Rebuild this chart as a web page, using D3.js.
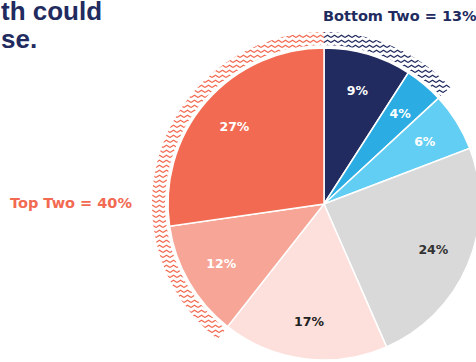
<!DOCTYPE html>
<html>
<head>
<meta charset="utf-8">
<script src="https://cdn.jsdelivr.net/npm/d3@7"></script>
<style>
  html, body { margin: 0; padding: 0; background: #fff; }
  svg { display: block; }
</style>
</head>
<body>
<div id="chart"></div>
<script>
// Share of responses, clockwise from 12 o'clock
const categories = ['Bottom 1', 'Bottom 2', 'Low', 'Middle', 'High', 'Top 2', 'Top 1'];
const values = [9, 4, 6, 24, 17, 12, 27];
const colors = ['#212b5f', '#2badE3', '#63cef3', '#d9d9d9', '#fde0dc', '#f6a597', '#f26a51'];
const labelColors = ['#fff', '#fff', '#fff', '#333', '#222', '#fff', '#fff'];

// Grouped brackets drawn as hatched rings
const groups = [
    { name: 'Top Two = 40%', members: ['Top 2', 'Top 1'], color: '#f26a51' },
    { name: 'Bottom Two = 13%', members: ['Bottom 1', 'Bottom 2'], color: '#212b5f' }
];

const titleLines = ['th could', 'se.'];

const width = 476;
const height = 362;
const cx = 324, cy = 204;
const radius = 156;

const svg = d3.select('#chart')
    .append('svg')
    .attr('width', width)
    .attr('height', height);

// Zigzag patterns for the group rings
const defs = svg.append('defs');
groups.forEach((g, i) => {
    const pat = defs.append('pattern')
        .attr('id', 'zig' + i)
        .attr('patternUnits', 'userSpaceOnUse')
        .attr('width', 7)
        .attr('height', 5);
    pat.append('path')
        .attr('d', 'M0,3.6 L3.5,1.2 L7,3.6')
        .attr('fill', 'none')
        .attr('stroke', g.color)
        .attr('stroke-width', 1.2);
});

const data = categories.map((c, i) => ({ name: c, value: values[i], color: colors[i], labelColor: labelColors[i] }));

const pie = d3.pie()
    .value(d => d.value)
    .sort(null);

const arcs = pie(data);

const arc = d3.arc()
    .innerRadius(0)
    .outerRadius(radius);

const labelArc = d3.arc()
    .innerRadius(radius * 0.76)
    .outerRadius(radius * 0.76);

const ringArc = d3.arc()
    .innerRadius(radius + 3)
    .outerRadius(radius + 16);

const chart = svg.append('g')
    .attr('transform', `translate(${cx},${cy})`);

// Hatched rings
groups.forEach((g, i) => {
    const parts = arcs.filter(a => g.members.includes(a.data.name));
    const start = d3.min(parts, a => a.startAngle);
    const end = d3.max(parts, a => a.endAngle);
    chart.append('path')
        .attr('d', ringArc({ startAngle: start, endAngle: end }))
        .attr('fill', `url(#zig${i})`);
});

// Slices
chart.selectAll('.slice')
    .data(arcs)
    .enter()
    .append('path')
    .attr('class', 'slice')
    .attr('d', arc)
    .attr('fill', d => d.data.color)
    .attr('stroke', '#fff')
    .attr('stroke-width', 1.5);

// Slice labels
chart.selectAll('.slice-label')
    .data(arcs)
    .enter()
    .append('text')
    .attr('class', 'slice-label')
    .attr('transform', d => `translate(${labelArc.centroid(d)})`)
    .attr('text-anchor', 'middle')
    .attr('dy', '0.35em')
    .style('font-family', 'DejaVu Sans, sans-serif')
    .style('font-size', '12.5px')
    .style('font-weight', 'bold')
    .attr('fill', d => d.data.labelColor)
    .text(d => d.data.value + '%');

// Group captions
svg.append('text')
    .attr('x', 10)
    .attr('y', 208)
    .style('font-family', 'DejaVu Sans, sans-serif')
    .style('font-size', '14.5px')
    .style('font-weight', 'bold')
    .attr('fill', groups[0].color)
    .text(groups[0].name);

svg.append('text')
    .attr('x', 323)
    .attr('y', 21)
    .style('font-family', 'DejaVu Sans, sans-serif')
    .style('font-size', '14.5px')
    .style('font-weight', 'bold')
    .attr('fill', groups[1].color)
    .text(groups[1].name);

// Title, cut off at the left edge as in the source
svg.append('text')
    .attr('x', 1)
    .attr('y', 20)
    .style('font-family', 'Liberation Sans, Arial, sans-serif')
    .style('font-size', '26px')
    .style('font-weight', 'bold')
    .attr('fill', '#222b5f')
    .selectAll('tspan')
    .data(titleLines)
    .enter()
    .append('tspan')
    .attr('x', 1)
    .attr('dy', (d, i) => i === 0 ? 0 : 28)
    .text(d => d);
</script>
</body>
</html>
